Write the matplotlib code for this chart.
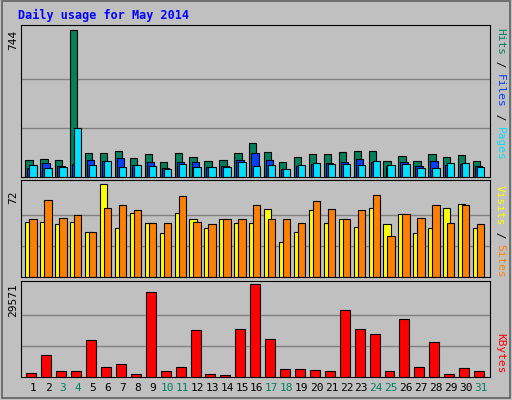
import matplotlib
matplotlib.use("Agg")
import matplotlib.pyplot as plt
from matplotlib.patches import Rectangle

days = list(range(1, 32))
weekend = [3, 4, 10, 11, 17, 18, 24, 25, 31]
hits = [88, 93, 88, 744, 123, 123, 133, 98, 118, 77, 123, 103, 82, 88, 123, 173,
        128, 77, 103, 118, 118, 128, 133, 133, 82, 108, 82, 118, 103, 113, 82]
files = [47, 72, 57, 67, 88, 82, 98, 62, 77, 47, 77, 77, 52, 57, 88, 123,
         88, 42, 57, 67, 72, 77, 93, 77, 57, 77, 57, 82, 62, 67, 57]
pages = [62, 47, 52, 249, 62, 82, 52, 62, 57, 42, 67, 52, 52, 52, 77, 57,
         62, 42, 62, 72, 67, 67, 62, 82, 62, 67, 47, 47, 72, 72, 52]
visits = [43, 43, 41, 43, 35, 72, 38, 50, 42, 34, 50, 45, 38, 45, 42, 42,
          53, 27, 35, 52, 42, 45, 39, 54, 41, 49, 34, 38, 54, 57, 38]
sites = [45, 60, 46, 48, 35, 54, 56, 52, 42, 42, 63, 43, 41, 45, 45, 56,
         45, 45, 42, 59, 53, 45, 52, 64, 32, 49, 46, 56, 42, 56, 41]
kbytes = [1400, 6900, 2050, 2050, 11760, 3350, 4000, 1080, 26980, 2050, 3350,
          15000, 1080, 755, 15320, 29571, 12085, 2700, 2700, 2370, 2050, 21470,
          15320, 13700, 2050, 18560, 3350, 11110, 1080, 3020, 2050]

BG = "#C0C0C0"
fig = plt.figure(figsize=(5.12, 4.0), dpi=100, facecolor=BG)
mono = "DejaVu Sans Mono"

fig.patches.append(Rectangle((0.003, 0.004), 0.994, 0.993, transform=fig.transFigure,
                             fill=False, edgecolor="#606060", lw=1.2))
fig.text(18/512, 1-15/400, "Daily usage for May 2014", color="#0000FF", fontsize=8.5,
         fontweight="bold", family=mono, va="center")

L, W = 20.7/512, 469.3/512
ax1 = fig.add_axes([L, 1-177/400, W, 152/400])
ax2 = fig.add_axes([L, 1-277/400, W, 97/400])
ax3 = fig.add_axes([L, 1-377/400, W, 96/400])

def style(ax, ymax, top):
    ax.set_facecolor(BG)
    ax.set_xlim(0.17, 31.62)
    ax.set_ylim(0, top)
    for v in (ymax/3, 2*ymax/3):
        ax.axhline(v, color="#808080", lw=1, zorder=0)
    ax.set_xticks([]); ax.set_yticks([])
    for s in ax.spines.values():
        s.set_color("black")

style(ax1, 744, 767)
style(ax2, 72, 75.4)
style(ax3, 29571, 30640)

kw = dict(align="edge", edgecolor="black", linewidth=0.8)
for d, h, f, p in zip(days, hits, files, pages):
    ax1.bar(d-0.52, h, 0.49, color="#00805C", **kw)
    ax1.bar(d-0.38, f, 0.49, color="#0040FF", **kw)
    ax1.bar(d-0.25, p, 0.49, color="#00E0FF", **kw)
for d, v, s in zip(days, visits, sites):
    ax2.bar(d-0.52, v, 0.49, color="#FFFF00", **kw)
    ax2.bar(d-0.25, s, 0.49, color="#FF8000", **kw)
for d, k in zip(days, kbytes):
    ax3.bar(d-0.45, k, 0.67, color="#FF0000", **kw)

for d in days:
    ax3.text(d, -0.06, str(d), transform=ax3.get_xaxis_transform(), ha="center",
             va="top", fontsize=8, family=mono,
             color="#00805C" if d in weekend else "black")

fig.text(13/512, 1-40/400, "744", rotation=90, fontsize=8, family=mono, ha="center", va="center")
fig.text(13/512, 1-197/400, "72", rotation=90, fontsize=8, family=mono, ha="center", va="center")
fig.text(13/512, 1-300/400, "29571", rotation=90, fontsize=8, family=mono, ha="center", va="center")

def rlabel(parts, ytop):
    y = ytop
    for txt, col in parts:
        t = fig.text(500/512, y, txt, rotation=-90, fontsize=8, family=mono,
                     color=col, ha="center", va="top")
        y -= len(txt) * 6.6/400

rlabel([("Hits", "#00805C"), (" / ", "black"), ("Files", "#0040FF"),
        (" / ", "black"), ("Pages", "#00E0FF")], 1-28/400)
rlabel([("Visits", "#FFFF00"), (" / ", "black"), ("Sites", "#FF8000")], 1-185/400)
rlabel([("KBytes", "#FF0000")], 1-333/400)

fig.savefig("out.png", dpi=100, facecolor=BG)
